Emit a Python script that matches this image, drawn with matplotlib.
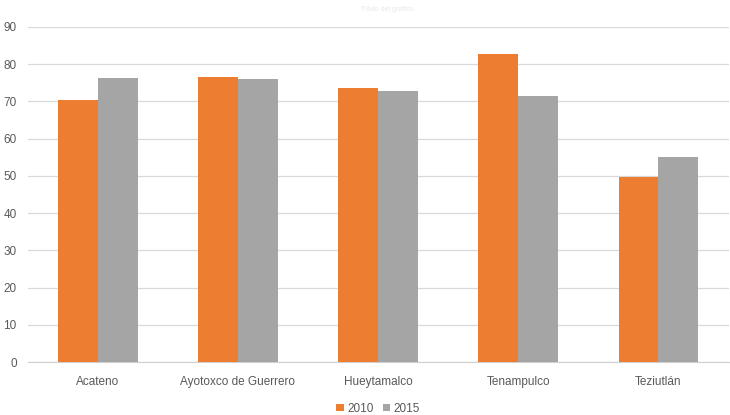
import matplotlib
matplotlib.use("Agg")
import matplotlib.pyplot as plt
import numpy as np

plt.rcParams["font.family"] = ["Liberation Sans", "DejaVu Sans"]

categories = ["Acateno", "Ayotoxco de Guerrero", "Hueytamalco", "Tenampulco", "Teziutlán"]
series_2010 = [70.3, 76.6, 73.5, 82.7, 49.8]
series_2015 = [76.3, 76.1, 72.9, 71.4, 55.2]
series_names = ["2010", "2015"]
yticks = [0, 10, 20, 30, 40, 50, 60, 70, 80, 90]

fig = plt.figure(figsize=(7.3, 4.15), dpi=100)
ax = fig.add_axes([0.038, 0.1277, 0.96, 0.8073])

x = np.arange(len(categories))
w = 0.285
ax.bar(x - w/2, series_2010, width=w, color="#ED7D31", label=series_names[0], zorder=3)
ax.bar(x + w/2, series_2015, width=w, color="#A5A5A5", label=series_names[1], zorder=3)

ax.set_xlim(-0.5, len(categories) - 0.5)
ax.set_ylim(0, 90)
ax.set_yticks(yticks)
ax.set_yticklabels([str(t) for t in yticks])
ax.set_xticks(x)
ax.set_xticklabels(categories)
ax.yaxis.grid(True, color="#D9D9D9", linewidth=0.9, zorder=0)
for s in ["top", "right", "left"]:
    ax.spines[s].set_visible(False)
ax.spines["bottom"].set_color("#D0D0D0")
ax.tick_params(axis="both", length=0, labelsize=8.5, labelcolor="#595959")
ax.tick_params(axis="x", pad=10)
ax.tick_params(axis="y", pad=8)

fig.text(0.53, 0.985, "Título del gráfico", ha="center", va="top", fontsize=5, color="#E8E8E8")

leg = fig.legend(loc="lower center", bbox_to_anchor=(0.518, -0.025), ncol=2, frameon=False,
                 fontsize=8.5, handlelength=0.6, handleheight=0.6, handletextpad=0.3, columnspacing=0.8)
for t in leg.get_texts():
    t.set_color("#595959")

fig.savefig("out.png", dpi=100)
